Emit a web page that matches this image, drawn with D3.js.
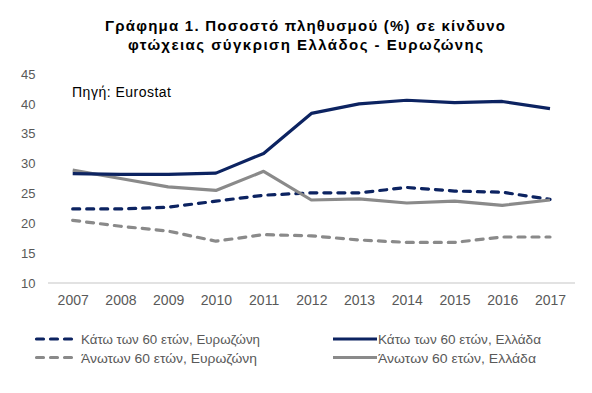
<!DOCTYPE html>
<html><head><meta charset="utf-8">
<script src="https://cdn.jsdelivr.net/npm/d3@7"></script>
<style>body{margin:0;background:#fff}svg{display:block}</style>
</head><body>
<svg id="c" width="592" height="393"></svg>
<script>
const years = [2007,2008,2009,2010,2011,2012,2013,2014,2015,2016,2017];
const below60EZ = [22.4,22.4,22.7,23.7,24.7,25.1,25.1,26.0,25.4,25.2,24.0];
const below60GR = [28.3,28.2,28.2,28.4,31.7,38.4,40.0,40.6,40.2,40.4,39.2];
const above60EZ = [20.5,19.5,18.7,17.0,18.1,17.9,17.2,16.8,16.8,17.7,17.7];
const above60GR = [28.9,27.5,26.1,25.5,28.7,23.9,24.1,23.4,23.7,23.0,23.9];
const yTicks = [10,15,20,25,30,35,40,45];
const titleLines = ["Γράφημα 1. Ποσοστό πληθυσμού (%) σε κίνδυνο","φτώχειας σύγκριση Ελλάδος - Ευρωζώνης"];
const sourceText = "Πηγή: Eurostat";
const series = [
  {name:"Κάτω των 60 ετών, Ευρωζώνη", values:below60EZ, color:"#0c2361", dash:true},
  {name:"Κάτω των 60 ετών, Ελλάδα", values:below60GR, color:"#0c2361", dash:false},
  {name:"Άνωτων 60 ετών, Ευρωζώνη", values:above60EZ, color:"#8a8a8a", dash:true},
  {name:"Άνωτων 60 ετών, Ελλάδα", values:above60GR, color:"#8a8a8a", dash:false}
];

const svg = d3.select("#c");
const font = "Liberation Sans, Arial, sans-serif";
const x = d3.scalePoint().domain(years).range([72.7,550]);
const y = d3.scaleLinear().domain([10,45]).range([283,74]);

// title
const titleLayout = [{x:105,y:31,w:400},{x:128,y:50,w:355}];
svg.append("g").selectAll("text").data(titleLines).join("text")
  .attr("x",(d,i)=>titleLayout[i].x).attr("y",(d,i)=>titleLayout[i].y)
  .attr("textLength",(d,i)=>titleLayout[i].w).attr("lengthAdjust","spacing")
  .attr("font-family",font).attr("font-weight","bold").attr("font-size",15).attr("fill","#000")
  .text(d=>d);

// axis line
svg.append("line").attr("x1",48).attr("x2",575).attr("y1",y(10)).attr("y2",y(10))
  .attr("stroke","#d9d9d9").attr("stroke-width",1.3);

// y ticks
const ya = d3.axisLeft(y).tickValues(yTicks).tickSize(0).tickPadding(0);
const gy = svg.append("g").attr("transform","translate(35.5,0)").call(ya);
gy.select(".domain").remove();
gy.selectAll("text").attr("font-family",font).attr("font-size",13).attr("fill","#595959");

// x ticks
const xa = d3.axisBottom(x).tickSize(0).tickPadding(0);
const gx = svg.append("g").attr("transform","translate(0,295)").call(xa);
gx.select(".domain").remove();
gx.selectAll("text").attr("font-family",font).attr("font-size",14).attr("fill","#595959").attr("dy","0.71em");

// source
svg.append("text").attr("x",72).attr("y",97).attr("font-family",font).attr("font-size",14)
  .attr("textLength",99).attr("lengthAdjust","spacing")
  .attr("fill","#000").text(sourceText);

// lines
const line = d3.line().x((d,i)=>x(years[i])).y(d=>y(d));
const order = [2,0,3,1];
order.forEach(k=>{
  const s = series[k];
  svg.append("path").datum(s.values).attr("d",line).attr("fill","none")
    .attr("stroke",s.color).attr("stroke-width",3.2).attr("stroke-linejoin","round")
    .attr("stroke-linecap",s.dash?"round":"butt")
    .attr("stroke-dasharray",s.dash?"7,7":null);
});

// legend
const legLayout = [
  {x1:36.5,x2:73,tx:81,tw:179,y:339},
  {x1:333,x2:377,tx:378,tw:163,y:339},
  {x1:36.5,x2:73,tx:81,tw:176,y:357.5},
  {x1:333,x2:377,tx:378,tw:158,y:357.5}
];
series.forEach((s,i)=>{
  const L = legLayout[i];
  svg.append("line").attr("x1",L.x1).attr("x2",L.x2).attr("y1",L.y).attr("y2",L.y)
    .attr("stroke",s.color).attr("stroke-width",3.2)
    .attr("stroke-linecap",s.dash?"round":"butt")
    .attr("stroke-dasharray",s.dash?"7,7":null);
  svg.append("text").attr("x",L.tx).attr("y",L.y+5).attr("font-family",font)
    .attr("font-size",13.5).attr("fill","#595959")
    .attr("textLength",L.tw).attr("lengthAdjust","spacingAndGlyphs").text(s.name);
});
</script>
</body></html>
